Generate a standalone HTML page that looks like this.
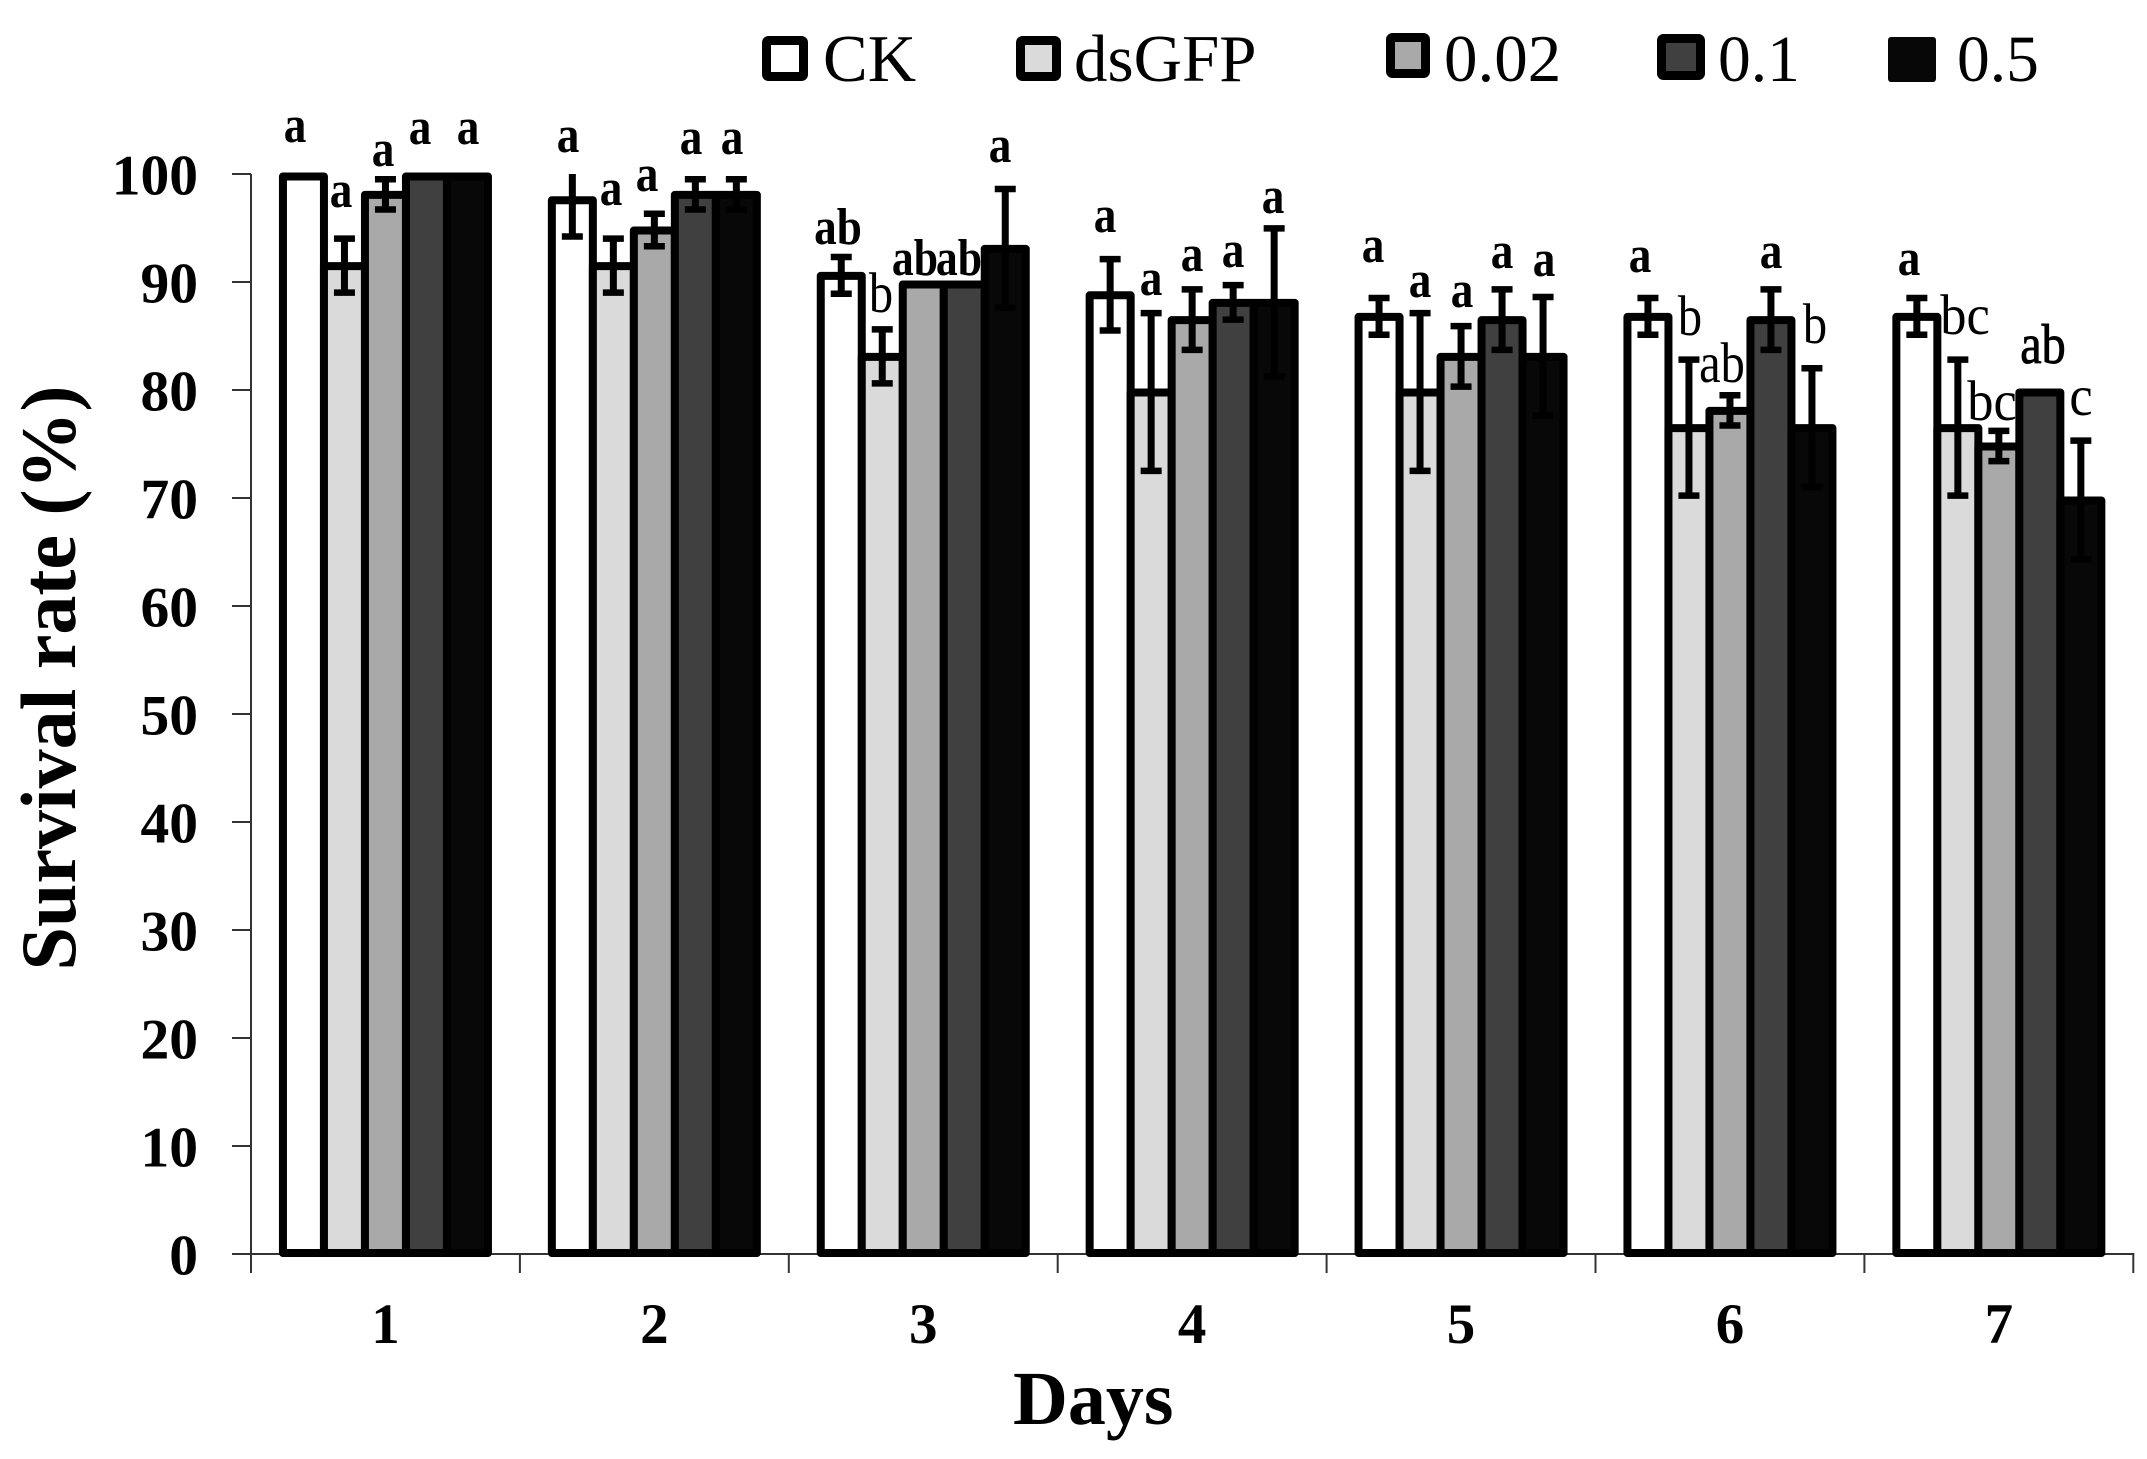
<!DOCTYPE html>
<html lang="en">
<head>
<meta charset="utf-8">
<title>Survival rate by day</title>
<style>
html,body{margin:0;padding:0;background:#fff;}
svg{display:block;}
text{font-family:"Liberation Serif",serif;fill:#000;}
.b{font-weight:bold;}
.sig{font-size:52px;text-anchor:middle;}
.reg{font-size:57px;}
.semi{font-size:56px;stroke:#000;stroke-width:.9px;}
.leg{font-size:67px;}
.leg2{font-size:65.5px;}
</style>
</head>
<body>
<svg id="chart" xmlns="http://www.w3.org/2000/svg" width="2147" height="1459" viewBox="0 0 2147 1459">
  <rect x="0" y="0" width="2147" height="1459" fill="#fff"/>
  <g id="axes"></g>
  <g id="bars"></g>
  <g id="errors"></g>

  <g>
    <text class="sig b" transform="translate(295,142) scale(.87,1)">a</text>
    <text class="sig b" transform="translate(341,207) scale(.87,1)">a</text>
    <text class="sig b" transform="translate(383,166) scale(.87,1)">a</text>
    <text class="sig b" transform="translate(420,144) scale(.87,1)">a</text>
    <text class="sig b" transform="translate(468,144) scale(.87,1)">a</text>
    <text class="sig b" transform="translate(568,152) scale(.87,1)">a</text>
    <text class="sig b" transform="translate(611,205) scale(.87,1)">a</text>
    <text class="sig b" transform="translate(647,191) scale(.87,1)">a</text>
    <text class="sig b" transform="translate(691,154) scale(.87,1)">a</text>
    <text class="sig b" transform="translate(732,154) scale(.87,1)">a</text>
    <text class="sig b" transform="translate(838,244) scale(.87,1)">ab</text>
    <text class="sig reg" transform="translate(881,312) scale(.85,1)">b</text>
    <text class="sig b" transform="translate(915,275) scale(.84,1)">ab</text>
    <text class="sig b" transform="translate(959,275) scale(.84,1)">ab</text>
    <text class="sig b" transform="translate(1000,162) scale(.87,1)">a</text>
    <text class="sig b" transform="translate(1105,232) scale(.87,1)">a</text>
    <text class="sig b" transform="translate(1151,295) scale(.87,1)">a</text>
    <text class="sig b" transform="translate(1192,271) scale(.87,1)">a</text>
    <text class="sig b" transform="translate(1233,267) scale(.87,1)">a</text>
    <text class="sig b" transform="translate(1273,213) scale(.87,1)">a</text>
    <text class="sig b" transform="translate(1373,262) scale(.87,1)">a</text>
    <text class="sig b" transform="translate(1420,297) scale(.87,1)">a</text>
    <text class="sig b" transform="translate(1462,307) scale(.87,1)">a</text>
    <text class="sig b" transform="translate(1502,268) scale(.87,1)">a</text>
    <text class="sig b" transform="translate(1544,276) scale(.87,1)">a</text>
    <text class="sig b" transform="translate(1640,272) scale(.87,1)">a</text>
    <text class="sig reg" transform="translate(1690,335) scale(.85,1)">b</text>
    <text class="sig reg" transform="translate(1722,382) scale(.85,1)">ab</text>
    <text class="sig b" transform="translate(1771,268) scale(.87,1)">a</text>
    <text class="sig reg" transform="translate(1815,343) scale(.85,1)">b</text>
    <text class="sig b" transform="translate(1909,275) scale(.87,1)">a</text>
    <text class="sig reg" transform="translate(1965,334) scale(.92,1)">bc</text>
    <text class="sig reg" transform="translate(1992,420) scale(.92,1)">bc</text>
    <text class="sig semi" transform="translate(2043,363) scale(.86,1)">ab</text>
    <text class="sig reg" transform="translate(2081,415) scale(.92,1)">c</text>
  </g>

  <g>
    <rect x="766.5" y="40.5" width="37" height="36" rx="2" fill="#fff" stroke="#000" stroke-width="9"/>
    <text class="leg" x="823" y="81">CK</text>
    <rect x="1020.5" y="40.5" width="36" height="36" rx="2" fill="#dadada" stroke="#000" stroke-width="9"/>
    <text class="leg" x="1074" y="81">dsGFP</text>
    <rect x="1390.5" y="37.5" width="35" height="36" rx="2" fill="#a9a9a9" stroke="#000" stroke-width="9"/>
    <text class="leg" x="1444" y="81">0.02</text>
    <rect x="1661.5" y="38.5" width="39" height="37" rx="2" fill="#404040" stroke="#000" stroke-width="9"/>
    <text class="leg2" x="1718" y="81">0.1</text>
    <rect x="1888" y="37" width="48" height="45" rx="3" fill="#070707"/>
    <text class="leg2" x="1957" y="81">0.5</text>
  </g>

  <text class="b" x="1013" y="1424" font-size="76">Days</text>
  <text class="b" transform="translate(75,678) rotate(-90)" text-anchor="middle" font-size="78">Survival rate (%)</text>
</svg>

<script>
const days = ['1','2','3','4','5','6','7'];
const yTickValues = [0,10,20,30,40,50,60,70,80,90,100];
const seriesKeys = ['ck','dsgfp','c002','c01','c05'];
const fills = ['#ffffff','#dadada','#a9a9a9','#404040','#080808'];

const ckValues    = [100, 97.8, 90.8, 89, 87, 87, 87];
const dsgfpValues = [91.7, 91.7, 83.3, 80, 80, 76.7, 76.7];
const c002Values  = [98.3, 95, 90, 86.7, 83.3, 78.3, 75];
const c01Values   = [100, 98.3, 90, 88.3, 86.7, 86.7, 80];
const c05Values   = [100, 98.3, 93.3, 88.3, 83.3, 76.7, 70];

const ckErrors    = [0, 3.4, 1.7, 3.3, 1.7, 1.7, 1.7];
const dsgfpErrors = [2.5, 2.5, 2.5, 7.3, 7.3, 6.3, 6.3];
const c002Errors  = [1.4, 1.5, 0, 2.8, 2.8, 1.4, 1.4];
const c01Errors   = [0, 1.4, 0, 1.6, 2.8, 2.8, 0];
const c05Errors   = [0, 1.4, 5.5, 6.85, 5.5, 5.5, 5.5];

const seriesValues = [ckValues, dsgfpValues, c002Values, c01Values, c05Values];
const seriesErrors = [ckErrors, dsgfpErrors, c002Errors, c01Errors, c05Errors];

const NS = 'http://www.w3.org/2000/svg';
const axisLeft = 251, axisBottom = 1254, unitY = 10.8, categoryWidth = 268.9, barPitch = 41;
const yMax = 100;
const strokeW = 8, topInset = 2.5, bottomInset = 1;

function yScale(v) { return axisBottom - v * unitY; }
function groupCenter(d) { return axisLeft + (d + 0.5) * categoryWidth; }
function barCenter(d, s) { return groupCenter(d) + (s - 2) * barPitch; }

function make(tag, attrs, parent) {
  const el = document.createElementNS(NS, tag);
  for (const k in attrs) el.setAttribute(k, attrs[k]);
  parent.appendChild(el);
  return el;
}

const axes = document.getElementById('axes');
const barsG = document.getElementById('bars');
const errG = document.getElementById('errors');
const axisColor = '#333';

const yAxis = make('line', {x1: axisLeft, x2: axisLeft, y1: yScale(yMax), y2: axisBottom + 19, stroke: axisColor, 'stroke-width': 2}, axes);



const xAxis = make('line', {x1: axisLeft - 19, x2: axisLeft + days.length * categoryWidth + 1, y1: axisBottom, y2: axisBottom, stroke: axisColor, 'stroke-width': 2}, axes);



yTickValues.forEach(function (v) {
  const tick = make('line', {x1: axisLeft - 19, x2: axisLeft, y1: yScale(v), y2: yScale(v), stroke: axisColor, 'stroke-width': 2}, axes);
  
  
  const label = make('text', {x: 198, y: yScale(v) + 20.5, 'text-anchor': 'end', 'font-size': 57.5, 'font-weight': 'bold'}, axes);
  
  
  label.textContent = String(v);
});

for (let d = 0; d <= days.length; d++) {
  const x = axisLeft + d * categoryWidth;
  const tick = make('line', {x1: x, x2: x, y1: axisBottom, y2: axisBottom + 19, stroke: axisColor, 'stroke-width': 2}, axes);
  
  
}

days.forEach(function (day, d) {
  const label = make('text', {x: groupCenter(d), y: 1343, 'text-anchor': 'middle', 'font-size': 57, 'font-weight': 'bold'}, axes);
  
  
  label.textContent = day;

  seriesKeys.forEach(function (key, s) {
    const v = seriesValues[s][d];
    const top = yScale(v) + topInset;
    const bar = make('rect', {
      x: barCenter(d, s) - barPitch / 2,
      y: top,
      width: barPitch,
      height: axisBottom - bottomInset - top,
      fill: fills[s],
      stroke: '#000',
      'stroke-width': strokeW,
      'stroke-linejoin': 'round'
    }, barsG);
    
    

    const e = seriesErrors[s][d];
    if (e > 0) {
      const cx = barCenter(d, s);
      const center = yScale(v) + 2;
      const clipped = v + e > yMax;
      const upper = clipped ? yScale(yMax) : center - e * unitY;
      const lower = center + e * unitY;
      const stem = make('line', {x1: cx, x2: cx, y1: upper, y2: lower, stroke: '#000', 'stroke-width': 7}, errG);
      
      
      const capLow = make('line', {x1: cx - 10.5, x2: cx + 10.5, y1: lower, y2: lower, stroke: '#000', 'stroke-width': 6.5}, errG);
      
      
      if (!clipped) {
        const capHigh = make('line', {x1: cx - 10.5, x2: cx + 10.5, y1: upper, y2: upper, stroke: '#000', 'stroke-width': 6.5}, errG);
        
        
      }
    }
  });
});
</script>
</body>
</html>
